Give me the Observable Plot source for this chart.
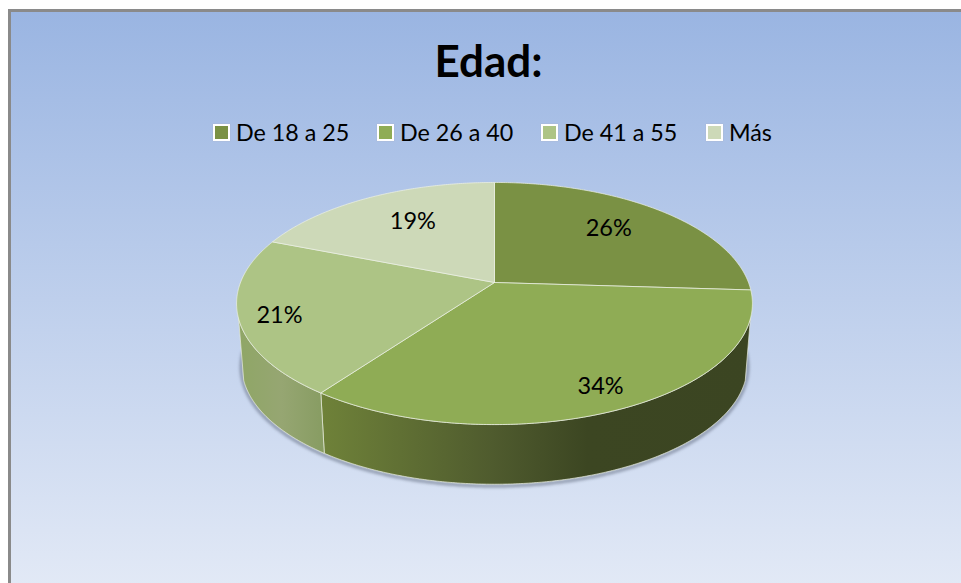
<!DOCTYPE html>
<html lang="es">
<head>
<meta charset="utf-8">
<title>Edad:</title>
<style>
  html, body { margin: 0; padding: 0; width: 961px; height: 583px; overflow: hidden; background: #fff; }
  #frame {
    position: absolute; left: 8px; top: 9px; width: 1000px; height: 620px;
    box-sizing: border-box; border: 3px solid #8a8a8a;
    background: linear-gradient(to bottom, #9ab5e2 0px, #e2e9f6 574px);
  }
  #head { position: absolute; left: 0; top: 0; width: 961px; font-family: Lato, sans-serif; color: #000; }
  h1 { position: absolute; left: 0; width: 977px; top: 33px; margin: 0; text-align: center;
       font-size: 44px; line-height: 54px; font-weight: 700; }
  #legend { position: absolute; left: 0; width: 961px; top: 116px; height: 32px; font-size: 23.3px; line-height: 32px; }
  .item { position: absolute; top: 0; white-space: nowrap; }
  .swatch { position: absolute; left: 0; top: 8px; width: 13px; height: 13px; border: 2px solid #fff; box-shadow: 0 0 1px #aab; }
  .item span.t { position: absolute; left: 23px; top: 0; }
  #chart { position: absolute; left: 0; top: 160px; }
</style>
<script src="https://cdn.jsdelivr.net/npm/d3@7"></script>
<script src="https://cdn.jsdelivr.net/npm/@observablehq/plot@0.6"></script>
</head>
<body>
<div id="frame"></div>
<div id="head">
  <h1 id="title"></h1>
  <div id="legend"></div>
</div>
<div id="chart"></div>
<script>
// Data
const chartTitle = "Edad:";
const categories = ["De 18 a 25", "De 26 a 40", "De 41 a 55", "Más"];
const percents = [26, 34, 21, 19];

// Styles
const topColors = ["#7a9144", "#8fac55", "#adc485", "#cdd9b8"];
const legendLeft = [213, 377, 541, 706];

// Perspective of the tilted disc
const discA = 254, discB = 117.4, discK = 0.1736;
const baseScale = 0.98, baseDrop = 62.5;
const silhouette = [107, 253];          // degrees where the wall appears and disappears
const labelReach = [0.70, 0.85, 0.85, 0.67];
const labelNudge = [-2.5, 0, -2, 2.4];

function project(deg, r = 1, s = 1, drop = 0) {
  const t = deg * Math.PI / 180, u = r * Math.sin(t), v = r * Math.cos(t), d = 1 + discK * v;
  return {x: s * discA * u / d, y: drop - s * discB * v / d};
}
function arc(a, b, s = 1, drop = 0) {
  const n = Math.max(2, Math.ceil(Math.abs(b - a) * 2));
  return d3.range(n + 1).map(i => project(a + (b - a) * i / n, 1, s, drop));
}

const total = d3.sum(percents);
const cum = d3.cumsum(percents);
const slices = categories.map((c, i) => ({
  name: c, value: percents[i], color: topColors[i],
  a0: (cum[i] - percents[i]) / total * 360,
  a1: cum[i] / total * 360
}));

function topFace(s) {
  return [{x: 0, y: 0}, ...arc(s.a0, s.a1), {x: 0, y: 0}];
}
function wall(s) {
  const a = Math.max(s.a0, silhouette[0]), b = Math.min(s.a1, silhouette[1]);
  if (b <= a) return null;
  const pts = [...arc(a, b), ...arc(b, a, baseScale, baseDrop)];
  return [...pts, pts[0]];
}

const defs = () => {
  const svg = d3.create("svg:defs");
  const g1 = svg.append("linearGradient").attr("id", "wall1");
  [[0, "#6f8239"], [0.4, "#4f5b2e"], [0.62, "#3c4622"], [1, "#3b4522"]].forEach(([o, c]) =>
    g1.append("stop").attr("offset", o).attr("stop-color", c));
  const g2 = svg.append("linearGradient").attr("id", "wall2");
  [[0, "#8fa666"], [0.5, "#96a672"], [1, "#879c62"]].forEach(([o, c]) =>
    g2.append("stop").attr("offset", o).attr("stop-color", c));
  return svg.node();
};

const wallFill = {1: "url(#wall1)", 2: "url(#wall2)"};
const labels = slices.map((s, i) => ({
  ...project((s.a0 + s.a1) / 2 + labelNudge[i], labelReach[i]),
  text: s.value + "%"
}));

const plot = Plot.plot({
  width: 961, height: 423,
  margin: 0,
  x: {domain: [-494, 467], range: [0, 961], axis: null},
  y: {domain: [-122, 301], range: [0, 423], axis: null},
  style: {background: "transparent", overflow: "visible"},
  marks: [
    defs,
    // soft shadow along the foot of the wall
    Plot.line(arc(silhouette[0] - 14, silhouette[1] + 14, baseScale * 1.002, baseDrop + 1.5), {
      x: "x", y: "y", stroke: "#5a6478", strokeWidth: 3, strokeOpacity: 0.6, imageFilter: "blur(1.6px)"
    }),
    ...slices.map((s, i) => wall(s) && Plot.line(wall(s), {
      x: "x", y: "y", fill: wallFill[i], stroke: "#e4e9d8", strokeWidth: 0.8, strokeOpacity: 0.9, curve: "linear"
    })).filter(Boolean),
    ...slices.map(s => Plot.line(topFace(s), {
      x: "x", y: "y", fill: s.color, stroke: "#edf1e4", strokeWidth: 0.8, strokeOpacity: 0.9, curve: "linear"
    })),
    Plot.text(labels, {
      x: "x", y: "y", text: "text", fontSize: 23.5, fontFamily: "Lato, sans-serif", fill: "#000", lineAnchor: "middle"
    })
  ]
});
document.getElementById("chart").append(plot);

document.getElementById("title").textContent = chartTitle;
const legend = d3.select("#legend");
categories.forEach((c, i) => {
  const item = legend.append("div").attr("class", "item").style("left", legendLeft[i] + "px");
  item.append("span").attr("class", "swatch").style("background", topColors[i]);
  item.append("span").attr("class", "t").text(c);
});
</script>
</body>
</html>
